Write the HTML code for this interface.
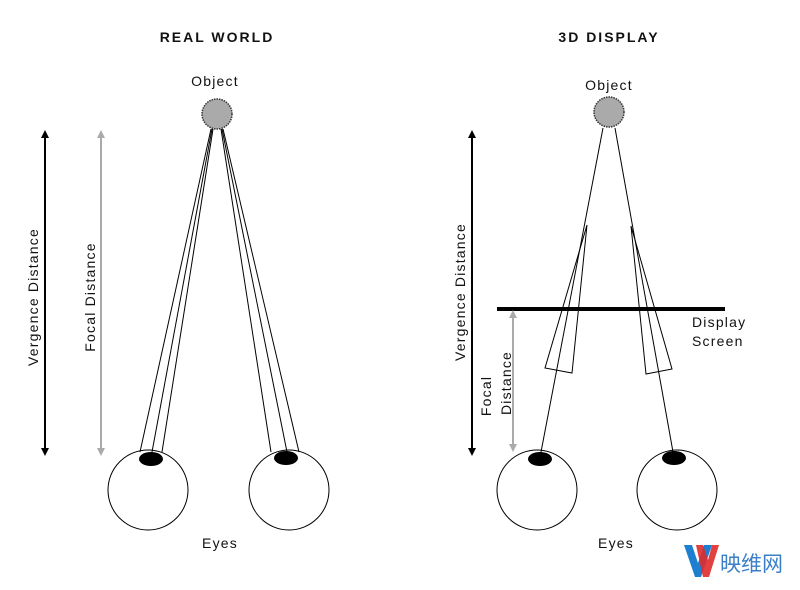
<!DOCTYPE html>
<html><head><style>body{margin:0;background:#fff}svg{display:block}text{font-family:"Liberation Sans","DejaVu Sans",sans-serif;fill:#111;font-size:14px;letter-spacing:1.2px}</style></head><body>
<svg width="800" height="590" viewBox="0 0 800 590" xmlns="http://www.w3.org/2000/svg">
<defs>
<marker id="ab" markerWidth="8" markerHeight="8" refX="4" refY="4" orient="auto-start-reverse" markerUnits="userSpaceOnUse"><path d="M0,0 L8,4 L0,8z" fill="#000"/></marker>
<marker id="ag" markerWidth="8" markerHeight="8" refX="4" refY="4" orient="auto-start-reverse" markerUnits="userSpaceOnUse"><path d="M0,0 L8,4 L0,8z" fill="#aaa"/></marker>
</defs>
<text x="217" y="42" text-anchor="middle" font-weight="bold" style="letter-spacing:2px">REAL WORLD</text>
<text x="609" y="42" text-anchor="middle" font-weight="bold" style="letter-spacing:2px">3D DISPLAY</text>
<text x="215" y="86" text-anchor="middle">Object</text>
<text x="609" y="90" text-anchor="middle">Object</text>
<circle cx="217" cy="114" r="15" fill="#aaa" stroke="#333" stroke-width="1.5" stroke-dasharray="1.5 1"/>
<circle cx="609" cy="112" r="15" fill="#aaa" stroke="#333" stroke-width="1.5" stroke-dasharray="1.5 1"/>
<g stroke="#000" stroke-width="1" fill="none">
<line x1="211" y1="129" x2="140" y2="452"/><line x1="212" y1="129" x2="152" y2="452"/><line x1="213" y1="129" x2="162" y2="452"/>
<line x1="221" y1="129" x2="271" y2="452"/><line x1="222" y1="129" x2="287" y2="452"/><line x1="223" y1="129" x2="299" y2="452"/>
<circle cx="148" cy="490" r="40"/><circle cx="289" cy="490" r="40"/>
<line x1="603" y1="128" x2="541" y2="452"/><line x1="615" y1="128" x2="673" y2="452"/>
<path d="M587,225 L545,368 L572,373 Z"/><path d="M631,226 L646,374 L672,369 Z"/>
<circle cx="537" cy="490" r="40"/><circle cx="677" cy="490" r="40"/>
</g>
<ellipse cx="151" cy="459" rx="12" ry="7" fill="#000"/>
<ellipse cx="286" cy="458" rx="12" ry="7" fill="#000"/>
<ellipse cx="540" cy="459" rx="12" ry="7" fill="#000"/>
<ellipse cx="674" cy="458" rx="12" ry="7" fill="#000"/>
<line x1="497" y1="309" x2="725" y2="309" stroke="#000" stroke-width="4"/>
<line x1="45" y1="134" x2="45" y2="452" stroke="#000" stroke-width="2" marker-start="url(#ab)" marker-end="url(#ab)"/>
<line x1="101" y1="134" x2="101" y2="452" stroke="#aaa" stroke-width="2" marker-start="url(#ag)" marker-end="url(#ag)"/>
<line x1="472" y1="134" x2="472" y2="452" stroke="#000" stroke-width="2" marker-start="url(#ab)" marker-end="url(#ab)"/>
<line x1="513" y1="314" x2="513" y2="448" stroke="#aaa" stroke-width="2" marker-start="url(#ag)" marker-end="url(#ag)"/>
<text transform="translate(38,297) rotate(-90)" text-anchor="middle">Vergence Distance</text>
<text transform="translate(95,297) rotate(-90)" text-anchor="middle">Focal Distance</text>
<text transform="translate(465,292) rotate(-90)" text-anchor="middle">Vergence Distance</text>
<text transform="translate(491,396) rotate(-90)" text-anchor="middle">Focal</text>
<text transform="translate(511,383) rotate(-90)" text-anchor="middle">Distance</text>
<text x="692" y="327">Display</text>
<text x="692" y="346">Screen</text>
<text x="220" y="548" text-anchor="middle">Eyes</text>
<text x="616" y="548" text-anchor="middle">Eyes</text>
<path d="M684,545 L692,545 L698,563 L704,545 L712,545 L701,577 L695,577 Z" fill="#1e7fd0"/>
<path d="M696,545 L703,545 L708,560 L712,545 L719,545 L709,577 L703,577 Z" fill="#e02b2b" opacity="0.9"/>
<text x="720" y="571" style="fill:#3a7fc8;font-size:21px;letter-spacing:0;font-family:'Liberation Sans','Noto Sans CJK SC',sans-serif">映维网</text>
</svg>
</body></html>
